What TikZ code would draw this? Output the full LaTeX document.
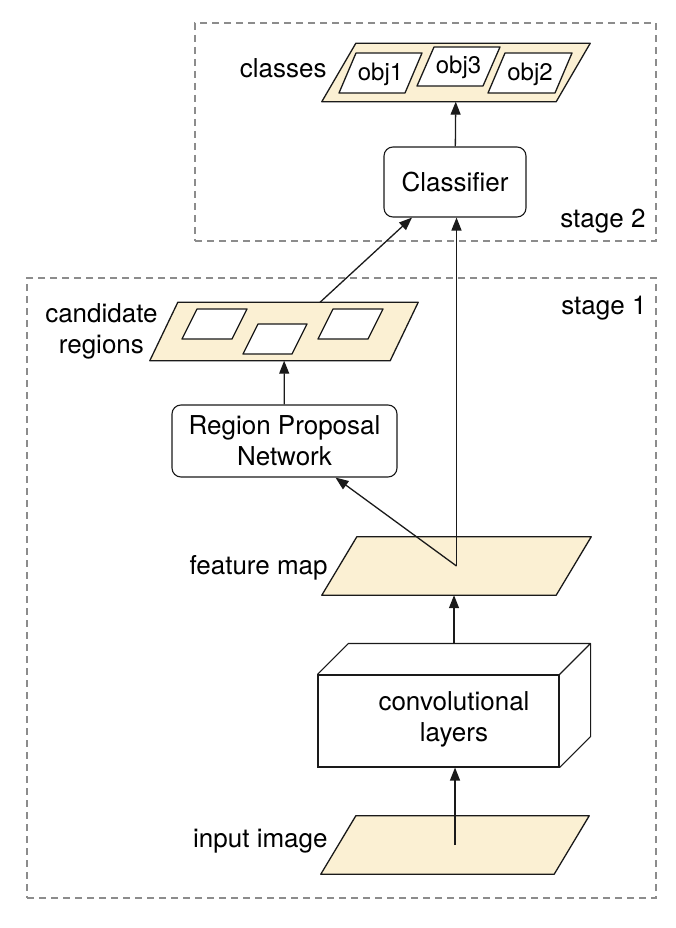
\documentclass[tikz,border=0pt]{standalone}
\usepackage{fontspec}
\setmainfont{TeX Gyre Heros}
\usepackage{tikz}
\usetikzlibrary{arrows.meta,positioning,calc}
\definecolor{ink}{HTML}{1A1A1A}
\definecolor{dashgray}{HTML}{8C8C8C}
\definecolor{sand}{HTML}{FBF0D3}

\begin{document}
\begin{tikzpicture}[x=1pt,y=-1pt, node distance=6pt, every node/.style={font=\fontsize{26}{31}\selectfont}, slab/.style={inner sep=0pt,minimum width=269pt,minimum height=58pt}, slabline/.style={draw=ink,fill=sand,line width=1.3pt,line join=round}, hole/.style={draw=ink,fill=white,line width=1.3pt,line join=round}, box/.style={draw=ink,fill=white,rounded corners=9pt,line width=1.1pt,align=center,inner sep=0pt}, stagebox/.style={draw=dashgray,dash pattern=on 7pt off 5pt,line width=1.3pt,inner sep=0pt}, tag/.style={inner sep=0pt,align=center}, flow/.style={draw=ink,line width=1.3pt,-{Triangle[length=13pt,width=10pt]}}]
\useasboundingbox (0,0) rectangle (676,928);
\node[stagebox,minimum width=461pt,minimum height=218pt] (s2) at (425.5,132) {};
\node[stagebox,minimum width=629pt,minimum height=620pt] (s1) at (341.5,588) {};
\node[tag,anchor=south east] (s2lbl) at ([xshift=-11pt,yshift=8pt]s2.south east) {stage 2};
\node[tag,anchor=north east] (s1lbl) at ([xshift=-10pt,yshift=-19pt]s1.north east) {stage 1};
\node[slab,minimum width=268pt] (cls) at (456,72.5) {};
\node[slab,minimum width=268pt] (cand) at (284,331.5) {};
\node[slab] (fmap) at (456.5,566) {};
\node[slab,minimum width=268pt] (img) at (455,845) {};
\foreach \n/\s in {cls/34,cand/28,fmap/35,img/35}{\draw[slabline] ([xshift=\s pt]\n.north west) -- (\n.north east) -- ([xshift=-\s pt]\n.south east) -- (\n.south west) -- cycle;}
\foreach \cx/\cy/\w/\h/\s/\n/\t in {380.5/73/83/40/17/obj1/obj1, 458.5/66.5/83/39/17/obj3/obj3, 530/73/84/40/17/obj2/obj2, 214.5/324/65/30/15/reg1/, 275/339/64/30/15/reg2/, 350.5/324/65/30/15/reg3/}{
\draw[hole] (\cx-\w/2,\cy+\h/2) -- (\cx+\w/2-\s,\cy+\h/2) -- (\cx+\w/2,\cy-\h/2) -- (\cx-\w/2+\s,\cy-\h/2) -- cycle;
\node[tag,font=\fontsize{24}{28}\selectfont] (\n) at (\cx,\cy+1) {\t};}
\node[tag,anchor=east] (clslbl) at ([xshift=5pt,yshift=4pt]cls.west) {classes};
\node[tag,anchor=east] (candlbl) at ([xshift=8pt]cand.west) {candidate\\regions};
\node[tag,anchor=east] (fmaplbl) at ([xshift=6pt,yshift=-2pt]fmap.west) {feature map};
\node[tag,anchor=east] (imglbl) at ([xshift=7pt,yshift=4pt]img.west) {input image};
\node[box,minimum width=142pt,minimum height=70pt] (clf) at (455,182) {Classifier};
\node[box,minimum width=225pt,minimum height=72pt] (rpn) at (284.5,441) {Region Proposal\\Network};
\node[draw=ink,fill=white,line width=1.1pt,minimum width=241pt,minimum height=92pt,inner sep=0pt] (conv) at (438.5,721) {};
\draw[ink,line width=1.1pt,line join=round] (conv.north west) -- ++(31,-31) -- ($(conv.north east)+(31,-31)$) coordinate (back) -- ($(conv.south east)+(31,-31)$) -- (conv.south east) (back) -- (conv.north east);
\node[tag] (convlbl) at ($(conv.center)+(15.5,-2)$) {convolutional\\layers};
\coordinate (convtop) at ($(conv.north)+(15.5,-31)$);
\foreach \x/\y in {clf/cls,rpn/cand}{\draw[flow] (\x)--(\y);}
\draw[flow] ([xshift=36pt]cand.north)--([xshift=-43pt]clf.south);
\draw[flow] (fmap.center)--(fmap.center |- clf.south);
\draw[flow] (fmap.center)--([xshift=51pt]rpn.south);
\draw[flow] (convtop)--(convtop |- fmap.south);
\draw[flow] (img.center)--(img.center |- conv.south);
\end{tikzpicture}
\end{document}
